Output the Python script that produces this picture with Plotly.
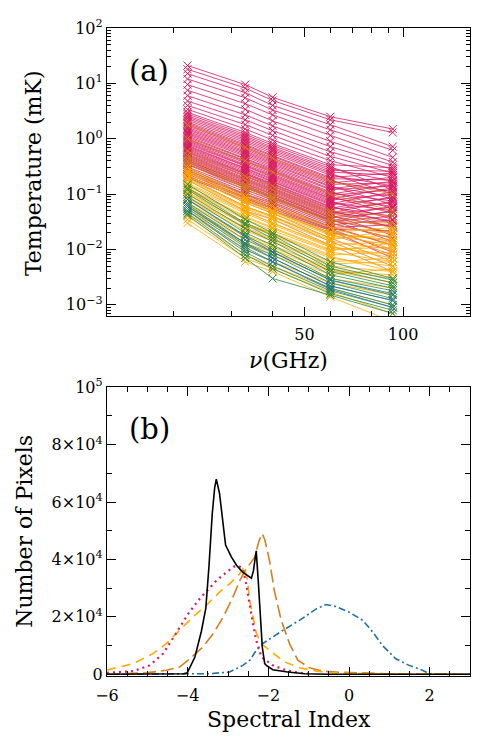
import plotly.graph_objects as go

# ==========================
# PANEL (a) DATA
# ==========================

freqs = [22, 33, 40, 60, 93]

crimson_lines = [
    [21.0, 9.5, 5.6, 2.5, 1.5],
    [18.0, 8.2, 4.9, 2.2, 1.3],
    [15.0, 6.8, 4.0, 1.8, 0.72],
    [12.0, 5.5, 3.3, 1.45, 0.62],
    [9.5, 4.3, 2.7, 1.15, 0.46],
    [7.5, 3.4, 2.1, 0.9, 0.38],
    [6.0, 2.7, 1.7, 0.72, 0.33],
    [4.8, 2.2, 1.4, 0.58, 0.28],
    [4.0, 1.8, 1.15, 0.48, 0.24],
    [3.4, 1.5, 0.95, 0.4, 0.2],
    [3.0, 1.3, 0.82, 0.34, 0.3],
    [2.8, 1.2, 0.76, 0.31, 0.12],
    [2.6, 1.12, 0.7, 0.29, 0.17],
    [2.45, 1.05, 0.66, 0.27, 0.26],
    [2.3, 0.98, 0.62, 0.25, 0.22],
    [2.15, 0.92, 0.58, 0.235, 0.1],
    [2.0, 0.86, 0.54, 0.22, 0.14],
    [1.9, 0.8, 0.5, 0.2, 0.24],
    [1.8, 0.76, 0.48, 0.19, 0.18],
    [1.7, 0.72, 0.45, 0.18, 0.08],
    [1.6, 0.68, 0.42, 0.17, 0.11],
    [1.52, 0.64, 0.4, 0.16, 0.2],
    [1.45, 0.6, 0.38, 0.15, 0.16],
    [1.37, 0.57, 0.36, 0.14, 0.065],
    [1.3, 0.54, 0.34, 0.135, 0.09],
    [1.24, 0.51, 0.32, 0.125, 0.17],
    [1.18, 0.48, 0.3, 0.12, 0.14],
    [1.12, 0.45, 0.285, 0.11, 0.055],
    [1.06, 0.43, 0.27, 0.105, 0.075],
    [1.0, 0.41, 0.26, 0.1, 0.15],
    [0.96, 0.39, 0.245, 0.095, 0.12],
    [0.92, 0.37, 0.23, 0.09, 0.045],
    [0.88, 0.35, 0.22, 0.085, 0.06],
    [0.84, 0.33, 0.21, 0.082, 0.13],
    [0.8, 0.32, 0.2, 0.078, 0.1],
    [0.76, 0.3, 0.19, 0.074, 0.035],
    [0.73, 0.29, 0.18, 0.07, 0.05],
    [0.7, 0.275, 0.17, 0.067, 0.11],
    [0.67, 0.26, 0.165, 0.064, 0.085],
    [0.64, 0.25, 0.155, 0.06, 0.03],
    [0.61, 0.24, 0.15, 0.058, 0.04],
    [0.58, 0.23, 0.143, 0.055, 0.09],
    [0.56, 0.22, 0.138, 0.053, 0.07],
    [0.53, 0.21, 0.13, 0.05, 0.025],
    [0.51, 0.2, 0.125, 0.048, 0.033],
    [0.49, 0.19, 0.12, 0.046, 0.075],
    [0.47, 0.18, 0.115, 0.044, 0.058],
    [0.45, 0.17, 0.11, 0.042, 0.018],
    [0.43, 0.165, 0.105, 0.04, 0.026],
    [0.41, 0.155, 0.1, 0.038, 0.06],
    [0.4, 0.15, 0.097, 0.037, 0.048],
    [0.38, 0.145, 0.093, 0.035, 0.014],
    [0.37, 0.14, 0.09, 0.034, 0.02],
    [0.35, 0.135, 0.086, 0.033, 0.05],
    [0.34, 0.13, 0.083, 0.032, 0.04],
    [0.31, 0.12, 0.077, 0.03, 0.016],
    [0.29, 0.11, 0.072, 0.028, 0.034],
    [0.27, 0.1, 0.067, 0.026, 0.012],
    [0.25, 0.095, 0.062, 0.025, 0.028],
    [0.23, 0.088, 0.058, 0.024, 0.009],
    [0.21, 0.082, 0.054, 0.023, 0.022],
    [0.2, 0.076, 0.05, 0.022, 0.007],
]

dark_orange_lines = [
    [1.8, 0.7, 0.45, 0.17, 0.1],
    [1.0, 0.4, 0.25, 0.1, 0.05],
    [0.6, 0.21, 0.14, 0.05, 0.04],
    [0.5, 0.18, 0.12, 0.045, 0.03],
    [0.45, 0.15, 0.1, 0.04, 0.025],
    [0.4, 0.14, 0.09, 0.035, 0.02],
    [0.38, 0.13, 0.085, 0.032, 0.03],
    [0.35, 0.12, 0.08, 0.03, 0.016],
    [0.3, 0.1, 0.07, 0.025, 0.012],
    [0.28, 0.09, 0.06, 0.022, 0.01],
    [0.26, 0.085, 0.055, 0.02, 0.014],
    [0.25, 0.08, 0.05, 0.019, 0.008],
    [0.22, 0.07, 0.045, 0.016, 0.006],
    [0.2, 0.06, 0.04, 0.014, 0.005],
    [0.18, 0.05, 0.035, 0.012, 0.004],
]

orange_lines = [
    [0.30, 0.09, 0.06, 0.025, 0.02],
    [0.26, 0.08, 0.05, 0.02, 0.025],
    [0.24, 0.075, 0.048, 0.019, 0.015],
    [0.22, 0.07, 0.045, 0.018, 0.012],
    [0.2, 0.06, 0.04, 0.016, 0.018],
    [0.19, 0.058, 0.038, 0.015, 0.022],
    [0.18, 0.055, 0.035, 0.014, 0.01],
    [0.16, 0.05, 0.03, 0.012, 0.014],
    [0.15, 0.048, 0.03, 0.0115, 0.007],
    [0.14, 0.045, 0.028, 0.011, 0.008],
    [0.13, 0.04, 0.025, 0.01, 0.011],
    [0.125, 0.038, 0.024, 0.0095, 0.013],
    [0.12, 0.035, 0.022, 0.009, 0.006],
    [0.11, 0.03, 0.02, 0.008, 0.009],
    [0.105, 0.03, 0.019, 0.0075, 0.004],
    [0.1, 0.028, 0.018, 0.007, 0.005],
    [0.09, 0.025, 0.016, 0.006, 0.007],
    [0.085, 0.024, 0.015, 0.0055, 0.006],
    [0.08, 0.022, 0.014, 0.005, 0.004],
    [0.07, 0.018, 0.012, 0.0045, 0.003],
    [0.065, 0.017, 0.011, 0.0042, 0.0025],
    [0.06, 0.015, 0.01, 0.004, 0.0035],
    [0.055, 0.013, 0.009, 0.0035, 0.0045],
    [0.05, 0.012, 0.008, 0.003, 0.002],
    [0.045, 0.01, 0.006, 0.0025, 0.0015],
    [0.04, 0.008, 0.005, 0.002, 0.001],
    [0.035, 0.007, 0.0045, 0.0017, 0.0007],
    [0.03, 0.006, 0.004, 0.0014, 0.0005],
]

green_lines = [
    [0.15, 0.035, 0.02, 0.006, 0.003],
    [0.13, 0.03, 0.018, 0.005, 0.0028],
    [0.12, 0.028, 0.016, 0.0045, 0.0025],
    [0.1, 0.024, 0.014, 0.004, 0.0022],
    [0.09, 0.02, 0.012, 0.0035, 0.002],
    [0.08, 0.018, 0.01, 0.003, 0.0018],
    [0.07, 0.015, 0.009, 0.0028, 0.0015],
    [0.065, 0.013, 0.008, 0.0025, 0.0013],
    [0.06, 0.012, 0.007, 0.0022, 0.0012],
    [0.055, 0.011, 0.006, 0.002, 0.001],
    [0.05, 0.009, 0.005, 0.0018, 0.0009],
    [0.045, 0.008, 0.0045, 0.0016, 0.0008],
    [0.042, 0.007, 0.003, 0.0015, 0.0007],
]

blue_lines = [
    [0.08, 0.017, 0.009, 0.0028, 0.0016],
    [0.06, 0.013, 0.007, 0.0022, 0.0012],
    [0.05, 0.01, 0.006, 0.0019, 0.0009],
]

# ==========================
# PANEL (b) DATA
# ==========================

si_black = [-6.0, -4.6, -4.1, -4.01, -3.82, -3.66, -3.55, -3.47, -3.39,
            -3.33, -3.29, -3.21, -3.14, -3.06, -2.92, -2.79, -2.63, -2.51,
            -2.42, -2.37, -2.30, -2.25, -2.20, -2.15, -2.09, -2.05, -1.89,
            -1.52, -1.1, -0.5, 3.0]
n_black = [0, 0, 200, 500, 6000, 15000, 23000, 38000, 56000,
           65000, 68000, 63000, 53500, 45000, 41000, 38000, 35500, 34500,
           33500, 36000, 43000, 32500, 21000, 9500, 3700, 3100, 1600,
           800, 200, 0, 0]

si_dot = [-6.0, -5.35, -4.94, -4.61, -4.40, -4.20, -3.99, -3.74, -3.53,
          -3.29, -3.04, -2.85, -2.74, -2.63, -2.55, -2.46, -2.38, -2.30,
          -2.17, -1.89, -1.56, -1.23, -1.0]
n_dot = [500, 1100, 3100, 7200, 11800, 16400, 21000, 25700, 29000,
         32600, 35500, 37500, 37800, 36700, 31500, 23400, 17600, 11800,
         6000, 3100, 1400, 500, 200]

si_dash = [-6.0, -5.35, -4.86, -4.53, -4.2, -3.87, -3.54, -3.21, -2.96,
           -2.71, -2.6, -2.52, -2.46, -2.38, -2.3, -2.18, -1.97, -1.60,
           -1.23, -0.81, -0.49, 0.0, 1.0, 3.0]
n_dash = [1500, 3700, 7200, 10700, 15300, 20000, 24000, 28600, 31500,
          35000, 37500, 33000, 25500, 19300, 14500, 10700, 8300, 4300,
          2300, 1100, 600, 300, 100, 0]

si_ldash = [-6.0, -5.02, -4.53, -4.2, -3.95, -3.62, -3.37, -3.12, -2.88,
            -2.71, -2.55, -2.34, -2.23, -2.15, -2.09, -1.97, -1.85, -1.68,
            -1.47, -1.27, -0.98, -0.65, -0.24, 0.33, 1.0, 3.0]
n_ldash = [0, 500, 1400, 2500, 5400, 9500, 14100, 19900, 26800,
           32600, 36700, 40700, 46500, 49000, 47000, 39600, 29000, 18800,
           10500, 4900, 2300, 1100, 700, 400, 200, 0]

si_dashdot = [-6.0, -3.45, -2.96, -2.63, -2.46, -2.30, -2.13, -1.97, -1.64,
              -1.23, -0.81, -0.57, -0.32, 0.01, 0.34, 0.59, 0.83, 1.16,
              1.49, 1.82, 1.99, 3.0]
n_dashdot = [0, 200, 800, 3100, 4900, 8300, 10800, 12300, 15300,
             18800, 22800, 24300, 23600, 21600, 18800, 14700, 10000, 5400,
             3100, 1400, 200, 0]

# ==========================
# STYLE
# ==========================

FONT = "DejaVu Serif"
CRIMSON = "#d81b60"
ORANGE = "#ffab00"
DARK_ORANGE = "#d4801e"
GREEN = "#2a8c3a"
BLUE = "#1f70a8"


def group_trace(lines, color):
    xs, ys = [], []
    for vals in lines:
        xs += freqs + [None]
        ys += vals + [None]
    return go.Scatter(
        x=xs,
        y=ys,
        mode="lines+markers",
        connectgaps=False,
        line=dict(color=color, width=0.8),
        marker=dict(symbol="x-thin", size=8, color=color,
                    line=dict(color=color, width=1)),
        xaxis="x",
        yaxis="y",
        showlegend=False,
        hoverinfo="skip",
    )


fig = go.Figure()

for lines, color in [
    (crimson_lines, CRIMSON),
    (dark_orange_lines, DARK_ORANGE),
    (orange_lines, ORANGE),
    (green_lines, GREEN),
    (blue_lines, BLUE),
]:
    fig.add_trace(group_trace(lines, color))

for xs, ys, color, dash, width in [
    (si_dashdot, n_dashdot, BLUE, "7px,3px,2px,3px", 1.6),
    (si_ldash, n_ldash, DARK_ORANGE, "13px,5px", 1.6),
    (si_dash, n_dash, ORANGE, "9px,6px", 1.6),
    (si_dot, n_dot, CRIMSON, "2px,4px", 2.2),
    (si_black, n_black, "black", "solid", 1.6),
]:
    fig.add_trace(go.Scatter(
        x=xs, y=ys, mode="lines",
        line=dict(color=color, dash=dash, width=width),
        xaxis="x2", yaxis="y2", showlegend=False, hoverinfo="skip",
    ))

# ==========================
# AXES
# ==========================

y_minor = [k * 10 ** n for n in range(-4, 2) for k in range(2, 10)]
common = dict(
    showline=True, linecolor="black", linewidth=1.3, mirror="ticks",
    ticks="inside", tickcolor="black", tickwidth=1, ticklen=9,
    showgrid=False, zeroline=False,
    tickfont=dict(family=FONT, size=16, color="black"),
)

# the page body adds an 8px offset, so the figure is 8px smaller
fig.update_layout(
    width=472,
    height=735,
    margin=dict(l=99, r=9, t=15, b=67),
    paper_bgcolor="white",
    plot_bgcolor="white",
    font=dict(family=FONT, color="black"),
    xaxis=dict(
        common, type="log", domain=[0, 1],
        range=[1.0969, 2.2041], anchor="y",
        tickvals=[50, 100], ticktext=["50", "100"],
        ticklabelstandoff=4,
        minor=dict(tickvals=[20, 30, 40, 60, 70, 80, 90], ticks="inside",
                   ticklen=5, tickcolor="black", tickwidth=1),
    ),
    yaxis=dict(
        common, type="log", domain=[0.5559, 1.0],
        range=[-3.197, 2.0], anchor="x",
        tickvals=[0.001, 0.01, 0.1, 1, 10, 100],
        ticktext=["10<sup>−3</sup>", "10<sup>−2</sup>", "10<sup>−1</sup>",
                  "10<sup>0</sup>", "10<sup>1</sup>", "10<sup>2</sup>"],
        minor=dict(tickvals=y_minor, ticks="inside", ticklen=4,
                   tickcolor="black", tickwidth=1),
    ),
    xaxis2=dict(
        common, domain=[0, 1], range=[-6, 3], anchor="y2",
        tickvals=[-6, -4, -2, 0, 2],
        ticktext=["−6", "−4", "−2", "0", "2"],
        ticklabelstandoff=5,
        minor=dict(dtick=0.5, ticks="inside", ticklen=5,
                   tickcolor="black", tickwidth=1),
    ),
    yaxis2=dict(
        common, domain=[0, 0.4456], range=[-600, 100000], anchor="x2",
        tickvals=[0, 20000, 40000, 60000, 80000, 100000],
        ticktext=["0", "2×10<sup>4</sup>", "4×10<sup>4</sup>",
                  "6×10<sup>4</sup>", "8×10<sup>4</sup>", "10<sup>5</sup>"],
        minor=dict(dtick=10000, ticks="inside", ticklen=5,
                   tickcolor="black", tickwidth=1),
    ),
)

# ==========================
# LABELS
# ==========================

labels = [
    ("Temperature (mK)", -0.2005, 0.7764, -90, 22),
    ("Number of Pixels", -0.228, 0.2228, -90, 22),
    ("<i>ν</i>(GHz)", 0.5, 0.487, 0, 22),
    ("Spectral Index", 0.5, -0.0674, 0, 22),
    ("(a)", 0.1154, 0.934, 0, 29),
    ("(b)", 0.118, 0.381, 0, 29),
]
for text, x, y, angle, size in labels:
    fig.add_annotation(
        text=text, x=x, y=y, xref="paper", yref="paper",
        xanchor="center", yanchor="middle", textangle=angle,
        showarrow=False, font=dict(family=FONT, size=size, color="black"),
    )

fig.write_html("out.html")
